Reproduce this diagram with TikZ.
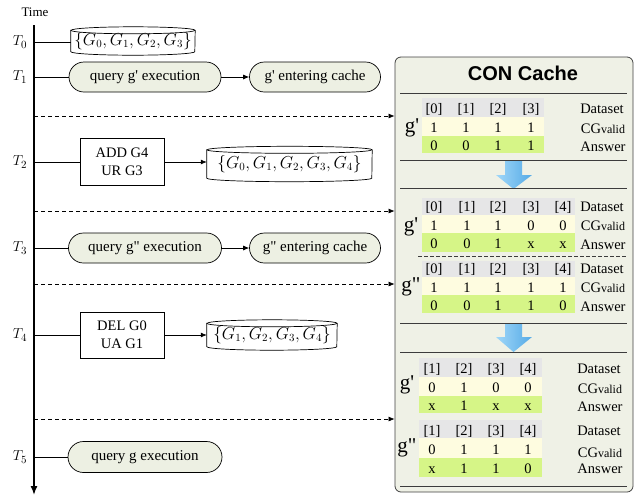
\documentclass[tikz,border=0pt]{standalone}
\usepackage[no-math]{fontspec}
\newfontfamily\tnr{Liberation Serif}
\newfontfamily\hel{Liberation Sans}
\usetikzlibrary{shapes.misc,arrows.meta,backgrounds,calc}
\definecolor{pillfill}{RGB}{237,240,227}
\definecolor{cachefill}{RGB}{239,241,230}
\definecolor{hdrgray}{RGB}{230,230,231}
\definecolor{rowyel}{RGB}{254,252,224}
\definecolor{rowgrn}{RGB}{214,245,135}
\definecolor{sepgray}{RGB}{60,60,60}
\definecolor{arrlight}{RGB}{160,215,248}
\definecolor{arrdark}{RGB}{85,170,230}
\tikzset{
  pill/.style={rounded rectangle, draw, fill=pillfill, line width=0.7pt, font=\tnr\fontsize{15}{17}\selectfont, inner sep=0pt},
  opbox/.style={rectangle, draw, fill=white, line width=0.7pt, align=center, font=\tnr\fontsize{14.5}{18}\selectfont, inner sep=0pt},
  cylbox/.style={inner sep=0pt, font=\fontsize{16}{18}\selectfont},
  tlab/.style={inner sep=0pt, font=\fontsize{15}{17}\selectfont},
  tick/.style={line width=0.7pt},
  conn/.style={line width=0.7pt, -{Latex[length=6pt,width=5pt]}},
  dconn/.style={line width=0.7pt, dash pattern=on 4pt off 3pt, -{Latex[length=6pt,width=5pt]}},
  axis/.style={line width=1.5pt, -{Latex[length=9pt,width=7pt]}},
  cell/.style={font=\tnr\fontsize{14.5}{16}\selectfont, inner sep=0pt, text height=10pt, text depth=0pt},
  rlab/.style={font=\tnr\fontsize{14.5}{16}\selectfont, inner sep=0pt, text height=10pt, text depth=0pt},
  glab/.style={font=\tnr\fontsize{21}{22}\selectfont, inner sep=0pt},
  sepline/.style={draw=sepgray, line width=0.8pt},
}
\newcommand\cylnode[6]{% name, cx, cy, w, h, text
  \node[cylbox, minimum width=#4pt, minimum height=#5pt] (#1) at (#2,#3) {\raisebox{-2pt}{#6}};
  \begin{scope}[on background layer]
  \draw[line width=0.7pt, fill=white]
    ([yshift=-3.5pt]#1.north west) -- ([yshift=3.5pt]#1.south west)
    arc[start angle=180, end angle=360, x radius=#4pt/2, y radius=3.5pt]
    -- ([yshift=-3.5pt]#1.north east)
    arc[start angle=0, end angle=180, x radius=#4pt/2, y radius=3.5pt] -- cycle;
  \draw[line width=0.7pt] ([yshift=-3.5pt]#1.north west)
    arc[start angle=180, end angle=360, x radius=#4pt/2, y radius=3.5pt];
  \end{scope}
}
\newcommand\CGv{CG{\fontsize{12}{14}\selectfont valid}}
\begin{document}
\begin{tikzpicture}[x=1pt,y=-1pt]
\useasboundingbox (0,0) rectangle (639,496);
% ---------- CON cache box ----------
\node[draw=black!75, fill=cachefill, rounded corners=6pt, line width=0.8pt,
      minimum width=238pt, minimum height=435pt, inner sep=0pt] (cache) at (514,274.5) {};
\node[font=\hel\bfseries\fontsize{20}{22}\selectfont, inner sep=0pt] (title) at (523,73) {CON Cache};
% blue arrows
\shade[left color=arrlight, right color=arrdark]
  (505,160) -- (522,160) -- (522,175) -- (532,175) -- (513.5,189) -- (496,175) -- (505,175) -- cycle;
\shade[left color=arrlight, right color=arrdark]
  (505,323) -- (522,323) -- (522,337) -- (532,337) -- (513.5,352) -- (496,337) -- (505,337) -- cycle;
% separators
\draw[sepline] (400,93) -- (627,93);
\draw[sepline] (400,160) -- (627,160);
\draw[sepline] (400,188) -- (627,188);
\draw[sepline, dash pattern=on 4pt off 2pt] (418,256) -- (627,256);
\draw[sepline] (400,323) -- (627,323);
\draw[sepline] (400,352) -- (627,352);
\draw[sepline] (400,486) -- (627,486);
% table 1
\fill[hdrgray] (422,98) rectangle (544,117);
\fill[rowyel] (422,117) rectangle (544,136);
\fill[rowgrn] (422,136) rectangle (544,153);
\foreach \x/\v/\a [count=\i from 0] in {434/1/0, 466/1/0, 498/1/1, 531/1/1}{
  \node[cell] (ta-h\i) at (\x,108) {[\i]};
  \node[cell] (ta-v\i) at (\x,127) {\v};
  \node[cell] (ta-a\i) at (\x,145) {\a};
}
\node[glab] (ga) at (412,128) {g'};
\node[rlab] (ta-d) at (602,108) {Dataset};
\node[rlab] (ta-c) at (603,128) {\CGv};
\node[rlab] (ta-r) at (603,146) {Answer};
% table 2a
\fill[hdrgray] (422,198) rectangle (575,215);
\fill[rowyel] (422,215) rectangle (575,233);
\fill[rowgrn] (422,233) rectangle (575,252);
\foreach \x/\v/\a [count=\i from 0] in {434/1/0, 467/1/0, 498/1/1, 531/0/x, 563/0/x}{
  \node[cell] (tb-h\i) at (\x,206) {[\i]};
  \node[cell] (tb-v\i) at (\x,225) {\v};
  \node[cell] (tb-a\i) at (\x,243) {\a};
}
\node[glab] (gb) at (411,227) {g'};
\node[rlab] (tb-d) at (602,206) {Dataset};
\node[rlab] (tb-c) at (603,225) {\CGv};
\node[rlab] (tb-r) at (603,244) {Answer};
% table 2b
\fill[hdrgray] (422,261) rectangle (575,277);
\fill[rowyel] (422,277) rectangle (575,295);
\fill[rowgrn] (422,295) rectangle (575,313);
\foreach \x/\v/\a [count=\i from 0] in {434/1/0, 467/1/0, 498/1/1, 531/1/1, 563/1/0}{
  \node[cell] (tc-h\i) at (\x,268) {[\i]};
  \node[cell] (tc-v\i) at (\x,287) {\v};
  \node[cell] (tc-a\i) at (\x,305) {\a};
}
\node[glab] (gc) at (411,287) {g"};
\node[rlab] (tc-d) at (602,268) {Dataset};
\node[rlab] (tc-c) at (603,287) {\CGv};
\node[rlab] (tc-r) at (603,306) {Answer};
% table 3a
\fill[hdrgray] (419,358) rectangle (542,377);
\fill[rowyel] (419,377) rectangle (542,396);
\fill[rowgrn] (419,396) rectangle (542,413);
\foreach \x/\v/\a [count=\i from 1] in {432/0/x, 464/1/1, 496/0/x, 528/0/x}{
  \node[cell] (td-h\i) at (\x,368) {[\i]};
  \node[cell] (td-v\i) at (\x,387) {\v};
  \node[cell] (td-a\i) at (\x,405) {\a};
}
\node[glab] (gd) at (407,385) {g'};
\node[rlab] (td-d) at (599,368) {Dataset};
\node[rlab] (td-c) at (600,388) {\CGv};
\node[rlab] (td-r) at (600,406) {Answer};
% table 3b
\fill[hdrgray] (419,420) rectangle (542,438);
\fill[rowyel] (419,438) rectangle (542,458);
\fill[rowgrn] (419,458) rectangle (542,477);
\foreach \x/\v/\a [count=\i from 1] in {432/0/x, 464/1/1, 496/1/1, 528/1/0}{
  \node[cell] (te-h\i) at (\x,430) {[\i]};
  \node[cell] (te-v\i) at (\x,449) {\v};
  \node[cell] (te-a\i) at (\x,468) {\a};
}
\node[glab] (ge) at (407,448) {g"};
\node[rlab] (te-d) at (599,430) {Dataset};
\node[rlab] (te-c) at (600,452) {\CGv};
\node[rlab] (te-r) at (600,468) {Answer};
% ---------- time line ----------
\node[font=\tnr\fontsize{13}{15}\selectfont, inner sep=0pt] (time) at (35,12) {Time};
\coordinate (axtop) at (34,25);
\coordinate (axbot) at (34,495);
\draw[axis] (axtop) -- (axbot);
\node[tlab] (t0) at (20,42) {$T_0$};
\node[tlab] (t1) at (20,77) {$T_1$};
\node[tlab] (t2) at (20,162) {$T_2$};
\node[tlab] (t3) at (20,248) {$T_3$};
\node[tlab] (t4) at (20,335) {$T_4$};
\node[tlab] (t5) at (20,457) {$T_5$};
\coordinate (a0) at (34,42);
\coordinate (a1) at (34,77);
\coordinate (a2) at (34,162);
\coordinate (a3) at (34,248);
\coordinate (a4) at (34,335);
\coordinate (a5) at (34,457);
% T0
\cylnode{c0}{133}{41}{124}{28}{$\{G_0,G_1,G_2,G_3\}$}
\draw[tick] (a0) -- (a0 -| c0.west);
% T1
\node[pill, minimum width=152pt, minimum height=30pt] (q1) at (145,77) {query g' execution};
\node[pill, minimum width=131pt, minimum height=30pt] (e1) at (315,77) {g' entering cache};
\draw[tick] (a1) -- (q1.west);
\draw[conn] (q1.east) -- (e1.west);
% dashed 1
\coordinate (d1) at (34,116);
\draw[dconn] (d1) -- (d1 -| cache.west);
% T2
\node[opbox, minimum width=84pt, minimum height=47pt] (b2) at (122,162) {ADD G4\\UR G3};
\cylnode{c2}{289.5}{164}{165}{35}{$\{G_0,G_1,G_2,G_3,G_4\}$}
\draw[tick] (a2) -- (b2.west);
\draw[conn] (b2.east) -- (b2.east -| c2.west);
% dashed 2
\coordinate (d2) at (34,211);
\draw[dconn] (d2) -- (d2 -| cache.west);
% T3
\node[pill, minimum width=153pt, minimum height=30pt] (q3) at (145,248) {query g" execution};
\node[pill, minimum width=131pt, minimum height=30pt] (e3) at (315,248) {g" entering cache};
\draw[tick] (a3) -- (q3.west);
\draw[conn] (q3.east) -- (e3.west);
% dashed 3
\coordinate (d3) at (34,284);
\draw[dconn] (d3) -- (d3 -| cache.west);
% T4
\node[opbox, minimum width=84pt, minimum height=46pt] (b4) at (122,335) {DEL G0\\UA G1};
\cylnode{c4}{272}{335}{130}{30}{$\{G_1,G_2,G_3,G_4\}$}
\draw[tick] (a4) -- (b4.west);
\draw[conn] (b4.east) -- (b4.east -| c4.west);
% dashed 4
\coordinate (d4) at (34,419);
\draw[dconn] (d4) -- (d4 -| cache.west);
% T5
\node[pill, minimum width=154pt, minimum height=31pt] (q5) at (145,457) {query g execution};
\draw[tick] (a5) -- (q5.west);
\end{tikzpicture}
\end{document}
